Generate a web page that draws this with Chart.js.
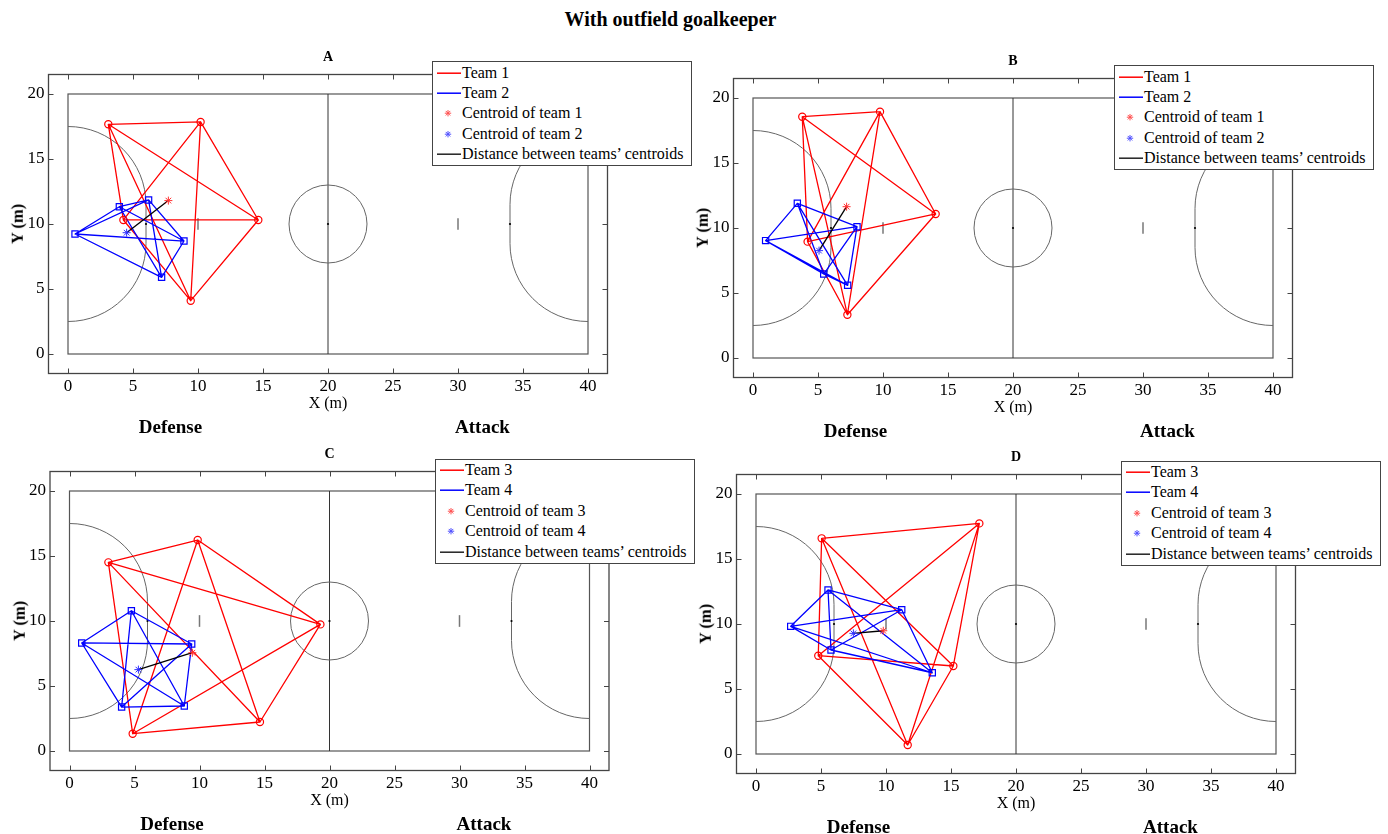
<!DOCTYPE html>
<html>
<head>
<meta charset="utf-8">
<title>With outfield goalkeeper</title>
<script src="https://cdn.jsdelivr.net/npm/chart.js@4.4.0/dist/chart.umd.min.js"></script>
<style>
  html, body { margin: 0; padding: 0; background: #fff; }
  body { width: 1388px; height: 834px; position: relative; overflow: hidden;
         font-family: "Liberation Serif", "Times New Roman", serif; color: #000; }
  canvas { position: absolute; }
  .txt { position: absolute; white-space: nowrap; line-height: 1; }
  .legend { position: absolute; background: #fff; border: 1px solid #444; box-sizing: border-box;
            font-size: 16px; z-index: 5; }
  .legend .row { position: absolute; left: 0; height: 20.4px; line-height: 20.4px; white-space: nowrap; }
  .legend svg { position: absolute; left: 3px; top: 0; }
  .legend .lbl { position: absolute; left: 29px; top: 0; }
</style>
</head>
<body>
<script>
// ---------------- Data (positions in metres on a 40 x 20 m futsal pitch) ----------------

// Panel A
const A_team1X = [3.10, 10.20, 14.64, 9.44, 4.26];
const A_team1Y = [17.67, 17.85, 10.31, 4.10, 10.31];
const A_team2X = [0.54, 3.95, 6.20, 8.92, 7.20];
const A_team2Y = [9.23, 11.33, 11.85, 8.69, 5.90];
const A_centroid1 = [7.72, 11.80];
const A_centroid2 = [4.51, 9.33];

// Panel B
const B_team1X = [3.79, 9.77, 14.05, 7.26, 4.20];
const B_team1Y = [18.56, 18.95, 11.08, 3.33, 8.95];
const B_team2X = [0.97, 3.41, 8.00, 7.28, 5.44];
const B_team2Y = [9.03, 11.90, 10.10, 5.59, 6.46];
const B_centroid1 = [7.20, 11.64];
const B_centroid2 = [5.08, 8.26];

// Panel C
const C_team3X = [2.99, 9.86, 19.30, 14.65, 4.86];
const C_team3Y = [14.51, 16.23, 9.74, 2.23, 1.33];
const C_team4X = [0.94, 4.76, 9.40, 8.83, 4.01];
const C_team4Y = [8.31, 10.79, 8.23, 3.46, 3.38];
const C_centroid3 = [9.45, 7.56];
const C_centroid4 = [5.30, 6.26];

// Panel D
const D_team3X = [5.05, 17.18, 15.18, 11.67, 4.79];
const D_team3Y = [16.59, 17.74, 6.77, 0.69, 7.56];
const D_team4X = [2.67, 5.54, 11.21, 13.56, 5.77];
const D_team4Y = [9.82, 12.62, 11.10, 6.25, 8.00];
const D_centroid3 = [9.79, 9.48];
const D_centroid4 = [7.49, 9.28];

// Axis ticks and limits
const X_TICKS = [0, 5, 10, 15, 20, 25, 30, 35, 40];
const Y_TICKS = [0, 5, 10, 15, 20];
const X_LIMITS = [-1.5, 41.5];
const Y_LIMITS = [-1.5, 21.5];

// Pitch geometry (m)
const PITCH_LENGTH = 40, PITCH_WIDTH = 20;
const CENTRE_RADIUS = 3, AREA_RADIUS = 6, POST_HALF = 1.5;
const SPOT_1 = 6, SPOT_2 = 10;

// ---------------- Panels ----------------
const PANELS = [
  { title: 'A', names: ['Team 1', 'Team 2', 'Centroid of team 1', 'Centroid of team 2'],
    red: [A_team1X, A_team1Y], blue: [A_team2X, A_team2Y], cRed: A_centroid1, cBlue: A_centroid2,
    canvas: { left: 0, top: 30, width: 700, height: 420 },
    area: { left: 48.5, top: 74.5, right: 607.5, bottom: 373.5 },
    legend: { left: 432, top: 61 } },
  { title: 'B', names: ['Team 1', 'Team 2', 'Centroid of team 1', 'Centroid of team 2'],
    red: [B_team1X, B_team1Y], blue: [B_team2X, B_team2Y], cRed: B_centroid1, cBlue: B_centroid2,
    canvas: { left: 700, top: 30, width: 688, height: 420 },
    area: { left: 733.5, top: 78.5, right: 1292.5, bottom: 377.5 },
    legend: { left: 1114, top: 65 } },
  { title: 'C', names: ['Team 3', 'Team 4', 'Centroid of team 3', 'Centroid of team 4'],
    red: [C_team3X, C_team3Y], blue: [C_team4X, C_team4Y], cRed: C_centroid3, cBlue: C_centroid4,
    canvas: { left: 0, top: 440, width: 700, height: 394 },
    area: { left: 50, top: 471.5, right: 609, bottom: 770.5 },
    legend: { left: 435, top: 458.5 } },
  { title: 'D', names: ['Team 3', 'Team 4', 'Centroid of team 3', 'Centroid of team 4'],
    red: [D_team3X, D_team3Y], blue: [D_team4X, D_team4Y], cRed: D_centroid3, cBlue: D_centroid4,
    canvas: { left: 700, top: 440, width: 688, height: 394 },
    area: { left: 736.5, top: 474.5, right: 1295.5, bottom: 773.5 },
    legend: { left: 1121, top: 460.5 } }
];

const RED = '#ff0000', BLUE = '#0000ff', DARK = '#000000';
const FONT = '"Liberation Serif", "Times New Roman", serif';
const Y_AXIS_WIDTH = 30, X_AXIS_HEIGHT = 30;

// Every pair of players is linked: an Euler circuit of the complete graph K5
const K5_CIRCUIT = [0, 1, 2, 3, 4, 0, 2, 4, 1, 3, 0];

function points(xs, ys) { return xs.map((x, i) => ({ x: x, y: ys[i] })); }
function circuit(xs, ys) { return K5_CIRCUIT.map(i => ({ x: xs[i], y: ys[i] })); }

// ---------------- Plugins ----------------
const pitchPlugin = {
  id: 'pitch',
  beforeDatasetsDraw(chart) {
    const { ctx, scales: { x, y } } = chart;
    const px = v => x.getPixelForValue(v), py = v => y.getPixelForValue(v);
    const sx = Math.abs(px(1) - px(0)), sy = Math.abs(py(1) - py(0));
    const midY = PITCH_WIDTH / 2;
    ctx.save();
    // boundary
    ctx.strokeStyle = '#555'; ctx.lineWidth = 1.2;
    ctx.strokeRect(px(0), py(PITCH_WIDTH), px(PITCH_LENGTH) - px(0), py(0) - py(PITCH_WIDTH));
    // halfway line
    ctx.strokeStyle = '#333'; ctx.lineWidth = 1;
    ctx.beginPath(); ctx.moveTo(px(PITCH_LENGTH / 2), py(0)); ctx.lineTo(px(PITCH_LENGTH / 2), py(PITCH_WIDTH)); ctx.stroke();
    // centre circle
    ctx.strokeStyle = '#666'; ctx.lineWidth = 1;
    ctx.beginPath();
    ctx.ellipse(px(PITCH_LENGTH / 2), py(midY), CENTRE_RADIUS * sx, CENTRE_RADIUS * sy, 0, 0, 2 * Math.PI);
    ctx.stroke();
    // penalty areas
    const rx = AREA_RADIUS * sx, ry = AREA_RADIUS * sy;
    ctx.beginPath();
    ctx.ellipse(px(0), py(midY + POST_HALF), rx, ry, 0, -Math.PI / 2, 0, false);
    ctx.lineTo(px(AREA_RADIUS), py(midY - POST_HALF));
    ctx.ellipse(px(0), py(midY - POST_HALF), rx, ry, 0, 0, Math.PI / 2, false);
    ctx.stroke();
    ctx.beginPath();
    ctx.ellipse(px(PITCH_LENGTH), py(midY + POST_HALF), rx, ry, 0, -Math.PI / 2, -Math.PI, true);
    ctx.lineTo(px(PITCH_LENGTH - AREA_RADIUS), py(midY - POST_HALF));
    ctx.ellipse(px(PITCH_LENGTH), py(midY - POST_HALF), rx, ry, 0, Math.PI, Math.PI / 2, true);
    ctx.stroke();
    // second penalty marks
    ctx.strokeStyle = '#777'; ctx.lineWidth = 1.5;
    [SPOT_2, PITCH_LENGTH - SPOT_2].forEach(v => {
      ctx.beginPath(); ctx.moveTo(px(v), py(midY - 0.45)); ctx.lineTo(px(v), py(midY + 0.45)); ctx.stroke();
    });
    // spots
    ctx.fillStyle = '#000';
    [SPOT_1, PITCH_LENGTH / 2, PITCH_LENGTH - SPOT_1].forEach(v => {
      ctx.beginPath(); ctx.arc(px(v), py(midY), 1.1, 0, 2 * Math.PI); ctx.fill();
    });
    ctx.restore();
  }
};

const boxPlugin = {
  id: 'axesBox',
  afterDraw(chart) {
    const { ctx, chartArea: a, scales: { x, y } } = chart;
    ctx.save();
    ctx.strokeStyle = '#444'; ctx.lineWidth = 1.3;
    ctx.strokeRect(a.left, a.top, a.right - a.left, a.bottom - a.top);
    ctx.lineWidth = 1;
    ctx.beginPath();
    X_TICKS.forEach(v => {
      const p = Math.round(x.getPixelForValue(v)) + 0.5;
      ctx.moveTo(p, a.bottom); ctx.lineTo(p, a.bottom - 5);
      ctx.moveTo(p, a.top); ctx.lineTo(p, a.top + 5);
    });
    Y_TICKS.forEach(v => {
      const p = Math.round(y.getPixelForValue(v)) + 0.5;
      ctx.moveTo(a.left, p); ctx.lineTo(a.left + 5, p);
      ctx.moveTo(a.right, p); ctx.lineTo(a.right - 5, p);
    });
    ctx.stroke();
    ctx.restore();
  }
};

// ---------------- Builders ----------------
function addText(str, opts) {
  const d = document.createElement('div');
  d.className = 'txt';
  d.textContent = str;
  d.style.fontSize = opts.size + 'px';
  d.style.fontWeight = opts.bold ? 'bold' : 'normal';
  if (opts.rotate) {
    d.style.left = opts.cx + 'px';
    d.style.top = opts.cy + 'px';
    d.style.transform = 'translate(-50%, -50%) rotate(-90deg)';
  } else {
    d.style.left = opts.cx + 'px';
    d.style.top = (opts.baseline - 0.8375 * opts.size) + 'px';
    d.style.transform = 'translateX(-50%)';
  }
  document.body.appendChild(d);
}

function symbolSvg(kind, color) {
  const ns = 'http://www.w3.org/2000/svg';
  const svg = document.createElementNS(ns, 'svg');
  svg.setAttribute('width', '26'); svg.setAttribute('height', '20.4');
  const mk = (x1, y1, x2, y2) => {
    const l = document.createElementNS(ns, 'line');
    l.setAttribute('x1', x1); l.setAttribute('y1', y1); l.setAttribute('x2', x2); l.setAttribute('y2', y2);
    l.setAttribute('stroke', color); l.setAttribute('stroke-width', kind === 'line' ? '1.5' : '1');
    svg.appendChild(l);
  };
  if (kind === 'line') {
    mk(1, 10.2, 25, 10.2);
  } else {
    const cx = 12, cy = 10.2, r = 3.2, d = r * Math.SQRT1_2;
    mk(cx - r, cy, cx + r, cy); mk(cx, cy - r, cx, cy + r);
    mk(cx - d, cy - d, cx + d, cy + d); mk(cx - d, cy + d, cx + d, cy - d);
  }
  return svg;
}

function addLegend(p) {
  const box = document.createElement('div');
  box.className = 'legend';
  box.style.left = p.legend.left + 'px';
  box.style.top = p.legend.top + 'px';
  box.style.width = '260px';
  box.style.height = '105px';
  const entries = [
    [p.names[0], 'line', RED], [p.names[1], 'line', BLUE],
    [p.names[2], 'star', '#ff5050'], [p.names[3], 'star', '#5050ff'],
    ['Distance between teams\u2019 centroids', 'line', '#222']
  ];
  entries.forEach((e, i) => {
    const row = document.createElement('div');
    row.className = 'row';
    row.style.top = (0.5 + i * 20.4) + 'px';
    row.appendChild(symbolSvg(e[1], e[2]));
    const s = document.createElement('span');
    s.className = 'lbl'; s.textContent = e[0];
    row.appendChild(s);
    box.appendChild(row);
  });
  document.body.appendChild(box);
}

function buildPanel(p) {
  const c = p.canvas, a = p.area;
  const cv = document.createElement('canvas');
  cv.width = c.width; cv.height = c.height;
  cv.style.left = c.left + 'px'; cv.style.top = c.top + 'px';
  cv.style.width = c.width + 'px'; cv.style.height = c.height + 'px';
  document.body.appendChild(cv);

  const tickFont = { family: FONT, size: 17 };
  new Chart(cv, {
    type: 'scatter',
    data: {
      datasets: [
        { label: p.names[0], data: circuit(p.red[0], p.red[1]), showLine: true, borderColor: RED,
          borderWidth: 1.3, pointRadius: 0, borderJoinStyle: 'round', tension: 0, order: 6 },
        { label: p.names[1], data: circuit(p.blue[0], p.blue[1]), showLine: true, borderColor: BLUE,
          borderWidth: 1.3, pointRadius: 0, borderJoinStyle: 'round', tension: 0, order: 5 },
        { label: p.names[0] + ' players', data: points(p.red[0], p.red[1]), pointStyle: 'circle',
          pointRadius: 3.6, borderColor: RED, backgroundColor: 'rgba(0,0,0,0)', borderWidth: 1.2, order: 4 },
        { label: p.names[1] + ' players', data: points(p.blue[0], p.blue[1]), pointStyle: 'rect',
          pointRadius: 4.4, borderColor: BLUE, backgroundColor: 'rgba(0,0,0,0)', borderWidth: 1.2, order: 3 },
        { label: 'Distance between teams\u2019 centroids',
          data: [{ x: p.cBlue[0], y: p.cBlue[1] }, { x: p.cRed[0], y: p.cRed[1] }],
          showLine: true, borderColor: DARK, borderWidth: 1.3, pointRadius: 0, order: 2 },
        { label: p.names[2], data: [{ x: p.cRed[0], y: p.cRed[1] }], pointStyle: 'star',
          pointRadius: 4, borderColor: '#ff3030', borderWidth: 1, order: 1 },
        { label: p.names[3], data: [{ x: p.cBlue[0], y: p.cBlue[1] }], pointStyle: 'star',
          pointRadius: 4, borderColor: '#3030ff', borderWidth: 1, order: 0 }
      ]
    },
    options: {
      responsive: false, animation: false, devicePixelRatio: 1, events: [],
      layout: { padding: {
        left: a.left - c.left - Y_AXIS_WIDTH,
        top: a.top - c.top,
        right: c.left + c.width - a.right,
        bottom: c.top + c.height - a.bottom - X_AXIS_HEIGHT } },
      plugins: { legend: { display: false }, tooltip: { enabled: false }, title: { display: false } },
      scales: {
        x: { type: 'linear', min: X_LIMITS[0], max: X_LIMITS[1],
             grid: { display: false, drawTicks: false }, border: { display: false },
             afterBuildTicks: s => { s.ticks = X_TICKS.map(v => ({ value: v })); },
             afterFit: s => { s.height = X_AXIS_HEIGHT; },
             ticks: { font: tickFont, color: '#000', padding: 3, autoSkip: false, maxRotation: 0 } },
        y: { type: 'linear', min: Y_LIMITS[0], max: Y_LIMITS[1],
             grid: { display: false, drawTicks: false }, border: { display: false },
             afterBuildTicks: s => { s.ticks = Y_TICKS.map(v => ({ value: v })); },
             afterFit: s => { s.width = Y_AXIS_WIDTH; },
             ticks: { font: tickFont, color: '#000', padding: 4, autoSkip: false } }
      }
    },
    plugins: [pitchPlugin, boxPlugin]
  });

  const midX = (a.left + a.right) / 2, midY = (a.top + a.bottom) / 2;
  addText(p.title, { cx: midX, baseline: a.top - 12.5, size: 14, bold: true });
  addText('X (m)', { cx: midX, baseline: a.bottom + 34.5, size: 16 });
  addText('Y (m)', { cx: a.left - 30.5, cy: midY, size: 16.5, bold: true, rotate: true });
  addText('Defense', { cx: a.left + 122, baseline: a.bottom + 59.5, size: 19, bold: true });
  addText('Attack', { cx: a.left + 434, baseline: a.bottom + 59.5, size: 19, bold: true });
  addLegend(p);
}

addText('With outfield goalkeeper', { cx: 670.5, baseline: 26, size: 20, bold: true });
PANELS.forEach(buildPanel);
</script>
</body>
</html>
